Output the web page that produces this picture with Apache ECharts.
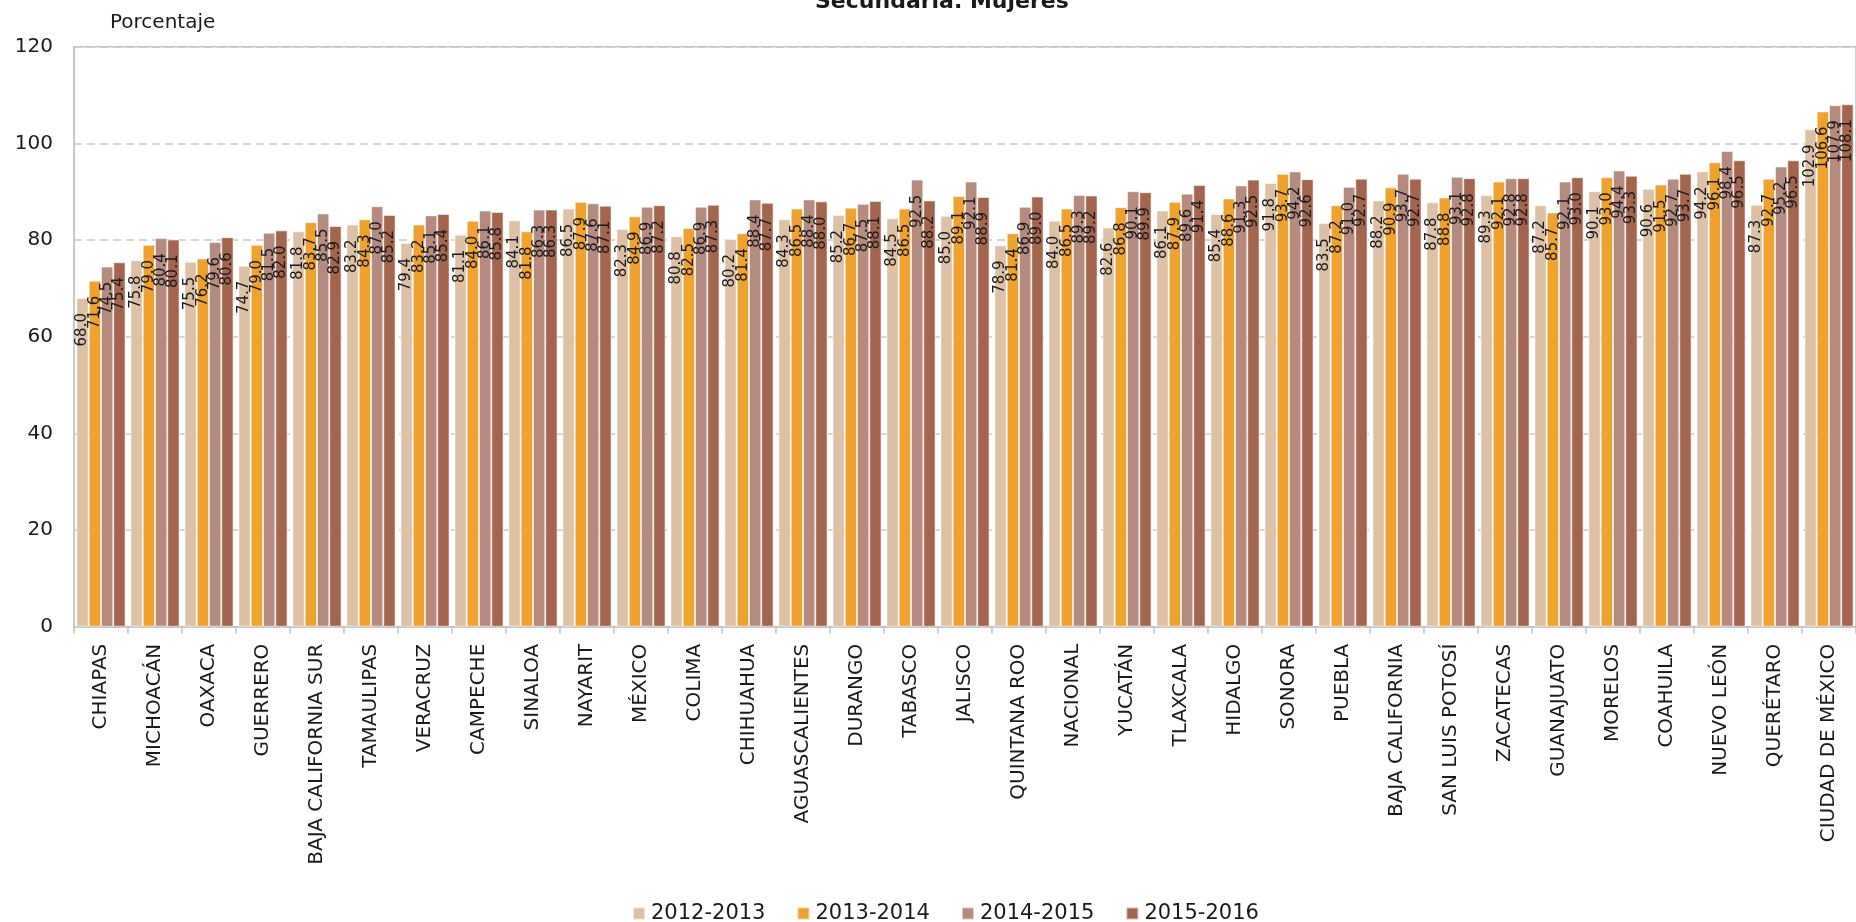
<!DOCTYPE html>
<html>
<head>
<meta charset="utf-8">
<title>Secundaria. Mujeres</title>
<script src="https://cdn.jsdelivr.net/npm/echarts@6/dist/echarts.min.js"></script>
<style>
  html, body { margin: 0; padding: 0; background: #ffffff; }
  #chart { width: 1856px; height: 922px; }
</style>
</head>
<body>
<div id="chart"></div>
<script>
// Entidades federativas, ordenadas por el valor 2015-2016
const categories = [
  'CHIAPAS', 'MICHOACÁN', 'OAXACA', 'GUERRERO', 'BAJA CALIFORNIA SUR', 'TAMAULIPAS',
  'VERACRUZ', 'CAMPECHE', 'SINALOA', 'NAYARIT', 'MÉXICO', 'COLIMA', 'CHIHUAHUA',
  'AGUASCALIENTES', 'DURANGO', 'TABASCO', 'JALISCO', 'QUINTANA ROO', 'NACIONAL',
  'YUCATÁN', 'TLAXCALA', 'HIDALGO', 'SONORA', 'PUEBLA', 'BAJA CALIFORNIA',
  'SAN LUIS POTOSÍ', 'ZACATECAS', 'GUANAJUATO', 'MORELOS', 'COAHUILA',
  'NUEVO LEÓN', 'QUERÉTARO', 'CIUDAD DE MÉXICO'
];

const seriesNames = ['2012-2013', '2013-2014', '2014-2015', '2015-2016'];

const ciclo2012_2013 = [
  68.0, 75.8, 75.5, 74.7, 81.8, 83.2, 79.4, 81.1, 84.1, 86.5, 82.3, 80.8, 80.2,
  84.3, 85.2, 84.5, 85.0, 78.9, 84.0, 82.6, 86.1, 85.4, 91.8, 83.5, 88.2,
  87.8, 89.3, 87.2, 90.1, 90.6, 94.2, 87.3, 102.9
];
const ciclo2013_2014 = [
  71.6, 79.0, 76.2, 79.0, 83.7, 84.3, 83.2, 84.0, 81.8, 87.9, 84.9, 82.5, 81.4,
  86.5, 86.7, 86.5, 89.1, 81.4, 86.5, 86.8, 87.9, 88.6, 93.7, 87.2, 90.9,
  88.8, 92.1, 85.7, 93.0, 91.5, 96.1, 92.7, 106.6
];
const ciclo2014_2015 = [
  74.5, 80.4, 79.6, 81.5, 85.5, 87.0, 85.1, 86.1, 86.3, 87.6, 86.9, 86.9, 88.4,
  88.4, 87.5, 92.5, 92.1, 86.9, 89.3, 90.1, 89.6, 91.3, 94.2, 91.0, 93.7,
  93.1, 92.8, 92.1, 94.4, 92.7, 98.4, 95.2, 107.9
];
const ciclo2015_2016 = [
  75.4, 80.1, 80.6, 82.0, 82.9, 85.2, 85.4, 85.8, 86.3, 87.1, 87.2, 87.3, 87.7,
  88.0, 88.1, 88.2, 88.9, 89.0, 89.2, 89.9, 91.4, 92.5, 92.6, 92.7, 92.7,
  92.8, 92.8, 93.0, 93.3, 93.7, 96.5, 96.5, 108.1
];

const yTicks = { min: 0, max: 120, interval: 20 };

const colors = ['#dcc1a7', '#efa22e', '#b58a7f', '#a4654f'];
const fontFamily = '"DejaVu Sans", sans-serif';

const chart = echarts.init(document.getElementById('chart'), null, { renderer: 'canvas' });

// Etiquetas de valor verticales, dentro de la barra y bajo su extremo superior
const valueLabel = {
  show: true,
  position: 'insideTop',
  distance: 15,
  rotate: 90,
  align: 'right',
  verticalAlign: 'middle',
  fontFamily: fontFamily,
  fontSize: 15,
  color: '#1a1a1a',
  formatter: p => p.value.toFixed(1)
};

function barSeries(name, data) {
  return {
    name: name,
    type: 'bar',
    data: data,
    barGap: '0%',
    barCategoryGap: '9%',
    itemStyle: { borderColor: 'rgba(255,255,255,0.55)', borderWidth: 1 },
    label: valueLabel,
    animation: false
  };
}

chart.setOption({
  color: colors,
  textStyle: { fontFamily: fontFamily },
  title: {
    text: 'Secundaria. Mujeres',
    left: 810,
    top: -14,
    textStyle: { fontFamily: fontFamily, fontSize: 22, fontWeight: 'bold', color: '#1a1a1a' }
  },
  legend: {
    data: seriesNames,
    left: 627,
    top: 898,
    icon: 'rect',
    itemWidth: 12,
    itemHeight: 12,
    itemGap: 31,
    textStyle: { fontFamily: fontFamily, fontSize: 21, color: '#1a1a1a', padding: [0, 0, 0, 1] }
  },
  grid: {
    left: 74,
    top: 46.7,
    width: 1783,
    height: 580,
    show: true,
    borderColor: '#c4c4c4',
    borderWidth: 1.5,
    backgroundColor: 'transparent'
  },
  xAxis: {
    type: 'category',
    data: categories,
    boundaryGap: true,
    axisLine: { show: true, lineStyle: { color: '#c4c4c4', width: 1.5 } },
    axisTick: { show: true, alignWithLabel: false, length: 7, lineStyle: { color: '#c4c4c4', width: 1.5 } },
    axisLabel: {
      rotate: 90,
      interval: 0,
      margin: 17,
      fontFamily: fontFamily,
      fontSize: 20,
      color: '#1a1a1a'
    }
  },
  yAxis: {
    type: 'value',
    min: yTicks.min,
    max: yTicks.max,
    interval: yTicks.interval,
    name: 'Porcentaje',
    nameLocation: 'end',
    nameGap: 14,
    nameTextStyle: { fontFamily: fontFamily, fontSize: 20, color: '#1a1a1a', align: 'left', padding: [0, 0, 0, 36] },
    axisLine: { show: true, lineStyle: { color: '#c4c4c4', width: 1.5 } },
    axisTick: { show: false },
    axisLabel: { fontFamily: fontFamily, fontSize: 20, color: '#1a1a1a', margin: 21 },
    splitLine: { show: true, lineStyle: { color: '#c8c8c8', width: 1.5, type: [8, 5] } }
  },
  series: [
    barSeries(seriesNames[0], ciclo2012_2013),
    barSeries(seriesNames[1], ciclo2013_2014),
    barSeries(seriesNames[2], ciclo2014_2015),
    barSeries(seriesNames[3], ciclo2015_2016)
  ]
});
</script>
</body>
</html>
